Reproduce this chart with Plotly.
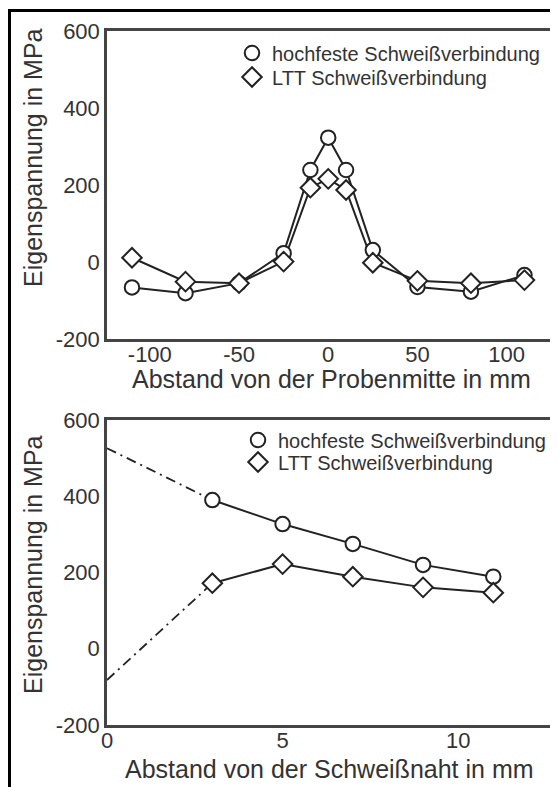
import plotly.graph_objects as go

# --- data ---
x_mitte = [-110, -80, -50, -25, -10, 0, 10, 25, 50, 80, 110]
hochfest_mitte = [-66, -81, -55, 23, 239, 323, 239, 31, -65, -77, -34]
ltt_mitte = [11, -51, -55, 1, 193, 216, 187, -2, -49, -55, -47]

x_naht = [3, 5, 7, 9, 11]
hochfest_naht = [390, 327, 275, 220, 189]
ltt_naht = [172, 222, 189, 161, 147]

# extrapolation to the weld seam (dash-dot)
x_extra = [0, 3]
hochfest_extra = [526, 390]
ltt_extra = [-82, 172]

y_ticks = [-200, 0, 200, 400, 600]
y_ticktext = ['-200', '0', '200', '400', '600']
x1_ticks = [-100, -50, 0, 50, 100]
x1_ticktext = ['-100', '-50', '0', '50', '100']
x2_ticks = [0, 5, 10]

name_hoch = 'hochfeste Schweißverbindung'
name_ltt = 'LTT Schweißverbindung'

# the page puts the plot 8px in from the top-left corner (body margin)
OFF = 8
W, H = 558 - OFF, 787 - OFF
FONT = 'Liberation Sans, Arial, sans-serif'
TXT = '#333333'
LINE = '#222222'
AX = '#444444'

def px_x(p):
    return (p - OFF) / W

def px_y(p):
    return 1 - (p - OFF) / H

fig = go.Figure()

circle = dict(symbol='circle', size=14.5, color='white', line=dict(color=LINE, width=2))
diamond = dict(symbol='diamond', size=15, color='white', line=dict(color=LINE, width=2))

# top plot: lines first, markers on top
for ys in (hochfest_mitte, ltt_mitte):
    fig.add_trace(go.Scatter(x=x_mitte, y=ys, mode='lines', line=dict(color=LINE, width=2),
                             showlegend=False, xaxis='x', yaxis='y', hoverinfo='skip'))
fig.add_trace(go.Scatter(x=x_mitte, y=hochfest_mitte, mode='markers', marker=circle,
                         name=name_hoch, legend='legend', xaxis='x', yaxis='y'))
fig.add_trace(go.Scatter(x=x_mitte, y=ltt_mitte, mode='markers', marker=diamond,
                         name=name_ltt, legend='legend2', xaxis='x', yaxis='y'))

# bottom plot
for ys in (hochfest_extra, ltt_extra):
    fig.add_trace(go.Scatter(x=x_extra, y=ys, mode='lines',
                             line=dict(color=LINE, width=1.8, dash='10px,5px,2px,5px'),
                             showlegend=False, xaxis='x2', yaxis='y2', hoverinfo='skip'))
for ys in (hochfest_naht, ltt_naht):
    fig.add_trace(go.Scatter(x=x_naht, y=ys, mode='lines', line=dict(color=LINE, width=2),
                             showlegend=False, xaxis='x2', yaxis='y2', hoverinfo='skip'))
fig.add_trace(go.Scatter(x=x_naht, y=hochfest_naht, mode='markers', marker=circle,
                         name=name_hoch, legend='legend3', xaxis='x2', yaxis='y2'))
fig.add_trace(go.Scatter(x=x_naht, y=ltt_naht, mode='markers', marker=diamond,
                         name=name_ltt, legend='legend4', xaxis='x2', yaxis='y2'))

axis_common = dict(showgrid=False, zeroline=False, showline=True, mirror=True,
                   linecolor=AX, linewidth=2.5, ticks='', automargin=False,
                   tickfont=dict(family=FONT, size=22, color=TXT))
title_font = dict(family=FONT, size=25, color=TXT)

xdom = [px_x(107), px_x(553)]

def leg(ypx, xpx):
    return dict(x=px_x(xpx), y=px_y(ypx), xanchor='left', yanchor='middle',
                bgcolor='rgba(0,0,0,0)', borderwidth=0,
                font=dict(family=FONT, size=20, color=TXT), itemwidth=30)

def title_ann(text, xpx, ypx, angle=0):
    return dict(text=text, xref='paper', yref='paper', x=px_x(xpx), y=px_y(ypx),
                xanchor='center', yanchor='middle', showarrow=False,
                textangle=angle, font=title_font)

fig.update_layout(
    width=W, height=H,
    margin=dict(l=0, r=0, t=0, b=0),
    paper_bgcolor='white', plot_bgcolor='white',
    font=dict(family=FONT, color=TXT),
    xaxis=dict(axis_common, domain=xdom, range=[-124, 126], tickvals=x1_ticks,
               ticktext=x1_ticktext, anchor='y', ticklabelstandoff=-6),
    yaxis=dict(axis_common, domain=[px_y(339), px_y(31)], range=[-200, 600],
               tickvals=y_ticks, ticktext=y_ticktext, anchor='x'),
    xaxis2=dict(axis_common, domain=xdom, range=[0, 12.7], tickvals=x2_ticks,
                anchor='y2', ticklabelstandoff=-6),
    yaxis2=dict(axis_common, domain=[px_y(725), px_y(420)], range=[-200, 600],
                tickvals=y_ticks, ticktext=y_ticktext, anchor='x2'),
    legend=leg(53, 232),
    legend2=leg(77, 232),
    legend3=leg(440, 238),
    legend4=leg(462, 238),
    annotations=[
        title_ann('Abstand von der Probenmitte in mm', 331, 379),
        title_ann('Eigenspannung in MPa', 33, 158, -90),
        title_ann('Abstand von der Schweißnaht in mm', 329, 769),
        title_ann('Eigenspannung in MPa', 33, 565, -90),
    ],
    shapes=[dict(type='rect', xref='paper', yref='paper',
                 x0=px_x(9.5), x1=1.05, y0=-0.05, y1=px_y(10.5),
                 line=dict(color='black', width=3))],
)

fig.write_html("out.html")
